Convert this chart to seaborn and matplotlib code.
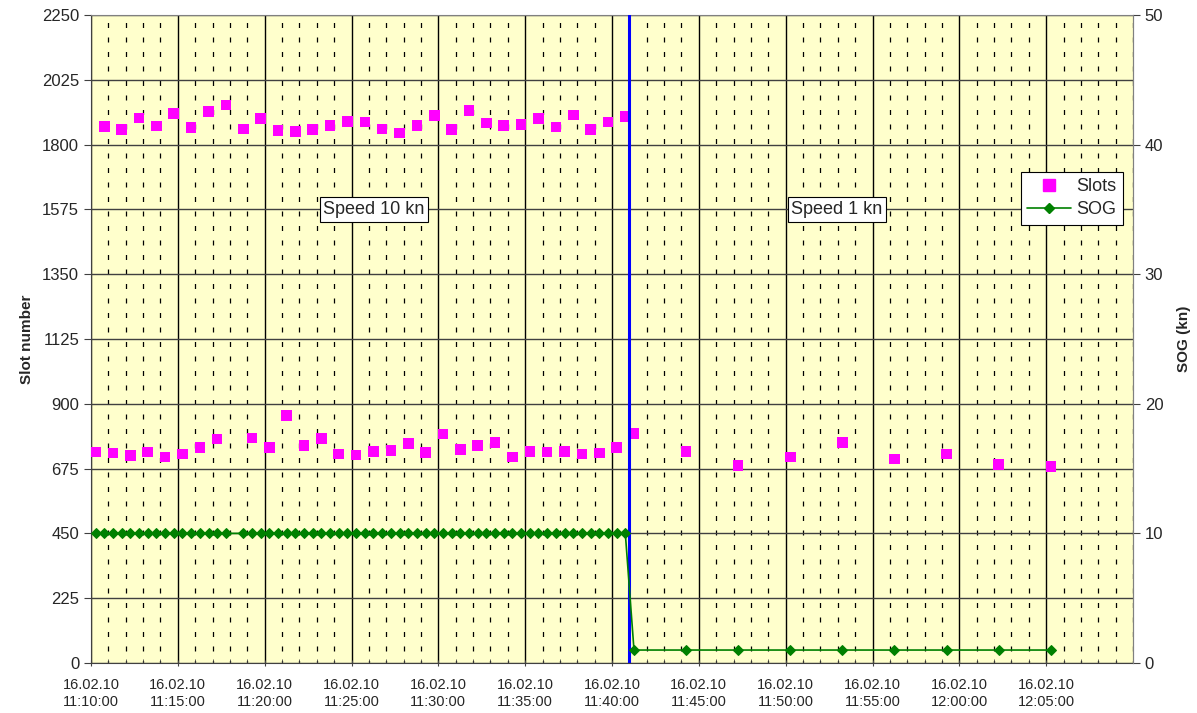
import matplotlib
matplotlib.use("Agg")
import matplotlib.pyplot as plt
import matplotlib.dates as mdates
from matplotlib.lines import Line2D
import pandas as pd
import seaborn as sns

# ---------------- data ----------------
DAY = "2010-02-16 "

slots_high_times = ["11:10:46", "11:11:46", "11:12:46", "11:13:46", "11:14:46", "11:15:46",
                    "11:16:46", "11:17:46", "11:18:46", "11:19:46", "11:20:46", "11:21:46",
                    "11:22:46", "11:23:46", "11:24:46", "11:25:46", "11:26:46", "11:27:46",
                    "11:28:46", "11:29:46", "11:30:46", "11:31:46", "11:32:46", "11:33:46",
                    "11:34:46", "11:35:46", "11:36:46", "11:37:46", "11:38:46", "11:39:46",
                    "11:40:46"]
slots_high_values = [1862, 1853, 1893, 1864, 1907, 1859, 1914, 1937, 1854, 1891, 1848, 1845,
                     1853, 1866, 1881, 1878, 1854, 1840, 1866, 1902, 1853, 1918, 1875, 1866,
                     1869, 1891, 1861, 1903, 1853, 1878, 1897]

slots_low_times = ["11:10:16", "11:11:16", "11:12:16", "11:13:16", "11:14:16", "11:15:16",
                   "11:16:16", "11:17:16", "11:19:16", "11:20:16", "11:21:16", "11:22:16",
                   "11:23:16", "11:24:16", "11:25:16", "11:26:16", "11:27:16", "11:28:16",
                   "11:29:16", "11:30:16", "11:31:16", "11:32:16", "11:33:16", "11:34:16",
                   "11:35:16", "11:36:16", "11:37:16", "11:38:16", "11:39:16", "11:40:16"]
slots_low_values = [733, 729, 720, 732, 716, 726, 749, 778, 781, 749, 859, 755,
                    780, 725, 722, 735, 737, 763, 730, 795, 742, 756, 766, 715,
                    734, 732, 735, 725, 729, 749]

slow_times = ["11:41:16", "11:44:16", "11:47:16", "11:50:16", "11:53:16",
              "11:56:16", "11:59:16", "12:02:16", "12:05:16"]
slots_slow_values = [796, 734, 686, 715, 765, 709, 726, 690, 683]

sog_fast_value = 10
sog_slow_values = [1, 1, 1, 1, 1, 1, 1, 1, 1]

x_tick_times = ["11:10:00", "11:15:00", "11:20:00", "11:25:00", "11:30:00", "11:35:00",
                "11:40:00", "11:45:00", "11:50:00", "11:55:00", "12:00:00", "12:05:00"]
x_start, x_end = "11:10:00", "12:10:00"
change_time = "11:41:00"
left_ticks = [0, 225, 450, 675, 900, 1125, 1350, 1575, 1800, 2025, 2250]
right_ticks = [0, 10, 20, 30, 40, 50]
label_fast = ("Speed 10 kn", "11:26:18", 1575)
label_slow = ("Speed 1 kn", "11:52:57", 1575)

# --------------- tables ---------------
def ts(t):
    return pd.Timestamp(DAY + t)

slots_df = pd.DataFrame({
    "time": [ts(t) for t in slots_high_times + slots_low_times + slow_times],
    "slot": slots_high_values + slots_low_values + slots_slow_values,
})
fast_sog_times = sorted(slots_high_times + slots_low_times)
sog_df = pd.DataFrame({
    "time": [ts(t) for t in fast_sog_times + slow_times],
    "sog": [sog_fast_value for _ in fast_sog_times] + sog_slow_values,
})

# --------------- plotting ---------------
sns.set_style("white")
plt.rcParams["font.family"] = ["Liberation Sans", "DejaVu Sans"]

fig = plt.figure(figsize=(11.97, 7.13), dpi=100)
fig.subplots_adjust(left=91 / 1197, right=1133 / 1197, bottom=1 - 663 / 713, top=1 - 15 / 713)
ax = fig.add_subplot(111)
ax.set_facecolor("#FFFFCC")

MAG = "#FF00FF"
GRN = "#008000"

sns.scatterplot(data=slots_df, x="time", y="slot", marker="s", s=58, color=MAG,
                edgecolor="none", linewidth=0, ax=ax, zorder=4, legend=False)

ax2 = ax.twinx()
sns.lineplot(data=sog_df, x="time", y="sog", color=GRN, marker="D", markersize=5.5,
             markeredgecolor=GRN, linewidth=1.2, ax=ax2, zorder=3, legend=False,
             estimator=None, sort=True)
ax2.axvline(ts(change_time), color="#0000FF", linewidth=2.2, zorder=2)

ax.set_xlim(ts(x_start), ts(x_end))
ax.set_ylim(0, 2250)
ax2.set_ylim(0, 50)
ax.set_yticks(left_ticks)
ax2.set_yticks(right_ticks)
ax.set_xticks([ts(t) for t in x_tick_times])
ax.xaxis.set_minor_locator(mdates.MinuteLocator(interval=1))
ax.xaxis.set_major_formatter(mdates.DateFormatter("%d.%m.%y\n%H:%M:%S"))

# grids
ax.grid(False)
ax2.grid(False)
ax.yaxis.grid(True, color="#404040", linewidth=1.0)
ax.xaxis.grid(True, which="major", color="black", linewidth=1.0)
ax.xaxis.grid(True, which="minor", color="black", linewidth=0.9, linestyle=(2, (4, 7.6)))
ax.set_axisbelow(True)

ax.tick_params(axis="y", labelsize=12, length=5, direction="out", left=True, color="#404040")
ax2.tick_params(axis="y", labelsize=12, length=5, direction="out", right=True, color="#404040")
ax.tick_params(axis="x", which="major", labelsize=10.5, length=5, direction="inout",
               bottom=True, color="#404040", pad=8)
ax.tick_params(axis="x", which="minor", length=3, direction="in", bottom=True, color="#404040")
for lbl in ax.get_xticklabels():
    lbl.set_linespacing(1.35)

for sp in ["left", "bottom"]:
    ax.spines[sp].set_color("#404040")
for sp in ["top", "right"]:
    ax.spines[sp].set_color("#808080")
for sp in ax2.spines.values():
    sp.set_visible(False)
ax2.spines["right"].set_visible(True)
ax2.spines["right"].set_color("#808080")

ax.set_xlabel("")
ax.set_ylabel("Slot number", fontsize=11, fontweight="bold", labelpad=6)
ax2.set_ylabel("SOG (kn)", fontsize=11, fontweight="bold", labelpad=10)

for txt, t, yv in (label_fast, label_slow):
    ax.text(ts(t), yv, txt, fontsize=13, ha="center", va="center", zorder=6,
            bbox=dict(boxstyle="square,pad=0.2", facecolor="white", edgecolor="black", linewidth=0.8))

handles = [
    Line2D([], [], linestyle="none", marker="s", markersize=8, color=MAG, markeredgecolor=MAG),
    Line2D([], [], color=GRN, marker="D", markersize=5.5, linewidth=1.2, markeredgecolor=GRN),
]
leg = ax2.legend(handles, ["Slots", "SOG"], loc="upper right", bbox_to_anchor=(0.99, 0.758),
                 borderaxespad=0, fontsize=13, frameon=True, fancybox=False, framealpha=1,
                 edgecolor="black", handlelength=2.4, handletextpad=0.3, borderpad=0.35,
                 labelspacing=0.35)
leg.get_frame().set_linewidth(0.8)
leg.set_zorder(10)

fig.savefig("out.png", dpi=100)
